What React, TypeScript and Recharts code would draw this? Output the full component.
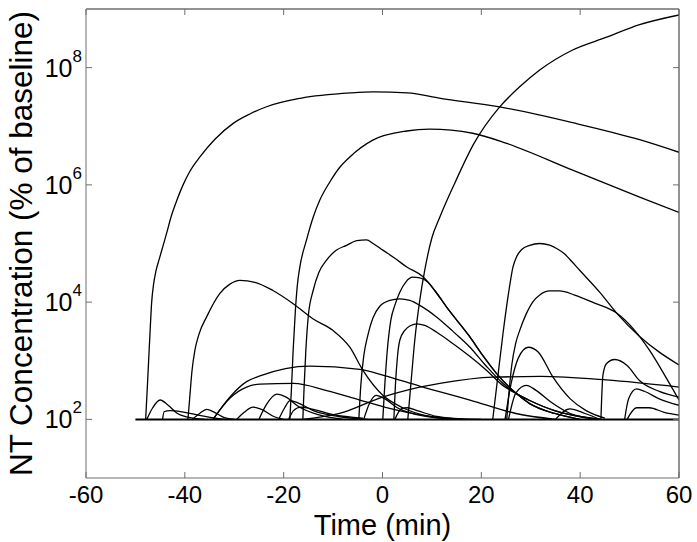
import { LineChart, Line, XAxis, YAxis, Label, ReferenceLine } from 'recharts';

const FONT = '"Liberation Sans", Arial, Helvetica, sans-serif';
const FRAME = '#6e6e6e';

const xTicks = [-60, -40, -20, 0, 20, 40, 60];
const yTicks = [1e2, 1e4, 1e6, 1e8];
const xMax = 60;
const yMax = 1e9;

// each curve: [time (min), concentration (% of baseline)]
const baseline: [number, number][] = [[-50, 100], [60, 100]];

const curveA: [number, number][] = [
  [-47.93, 100], [-47.62, 313], [-47.32, 1020], [-47.02, 3310], [-46.71, 1.0e4], [-46.35, 1.95e4],
  [-45.84, 3.4e4], [-45.24, 5.2e4], [-44.43, 9.0e4], [-43.68, 1.5e5], [-42.81, 2.8e5],
  [-41.6, 5.5e5], [-40.38, 9.9e5], [-38.97, 1.71e6], [-36.95, 3.0e6], [-33.91, 6.0e6],
  [-30.21, 1.12e7], [-26.84, 1.62e7], [-23.46, 2.15e7], [-16.59, 3.0e7], [-6.48, 3.7e7],
  [-1.83, 3.85e7], [5.05, 3.7e7], [11.71, 3.0e7], [23.72, 2.14e7], [38.48, 1.15e7],
  [52.03, 5.9e6], [60, 3.6e6],
];
const curveB: [number, number][] = [
  [-18.75, 100], [-18.44, 313], [-18.08, 1510], [-17.63, 7200], [-17.23, 1.95e4], [-16.72, 4.0e4],
  [-15.37, 1.15e5], [-14.03, 2.8e5], [-12.68, 5.5e5], [-10.66, 1.12e6], [-8.64, 2.0e6],
  [-6.61, 3.0e6], [-1.96, 5.8e6], [4.91, 8.3e6], [9.56, 8.9e6], [18.26, 7.6e6], [25.13, 5.1e6],
  [38.48, 1.78e6], [52.03, 6.2e5], [60, 3.4e5],
];
const curveC: [number, number][] = [
  [-16.12, 100], [-15.85, 380], [-15.51, 1510], [-15.0, 5970], [-14.03, 1.58e4], [-12.88, 3.2e4],
  [-11.32, 5.2e4], [-9.44, 7.6e4], [-7.28, 9.3e4], [-5.2, 1.12e5], [-3.24, 1.15e5],
  [-1.9, 1.0e5], [0.06, 7.7e4], [2.49, 5.6e4], [4.85, 4.0e4], [8.21, 2.7e4], [10.57, 1.58e4],
  [12.94, 8.3e3], [17.65, 2.57e3], [20.28, 1.23e3], [23.05, 610], [27.1, 275], [29.79, 186],
  [34.84, 126], [39.9, 100],
];
const curveD: [number, number][] = [
  [5.12, 100], [5.72, 380], [6.53, 2240], [7.54, 1.07e4], [8.55, 3.5e4], [9.97, 1.23e5],
  [11.59, 2.8e5], [14.62, 1.07e6], [18.46, 5.0e6], [23.72, 2.14e7], [27.76, 4.7e7],
  [31.81, 9.1e7], [38.48, 2.0e8], [45.36, 3.3e8], [52.03, 5.4e8], [60, 7.9e8],
];
const curveE: [number, number][] = [
  [22.31, 100], [23.32, 520], [24.39, 2950], [25.44, 1.3e4], [26.41, 4.0e4], [27.16, 6.0e4],
  [28.17, 7.9e4], [29.79, 9.3e4], [31.81, 1.0e5], [33.83, 9.4e4], [35.25, 8.2e4], [36.87, 6.6e4],
  [37.88, 5.4e4], [39.9, 3.5e4], [43.94, 1.48e4], [47.38, 6.5e3], [52.03, 2.6e3],
  [56.08, 1.39e3], [60, 850],
];
const curveF: [number, number][] = [
  [-39.37, 100], [-38.97, 257], [-38.56, 661], [-37.96, 1510], [-37.15, 2820], [-35.59, 5600],
  [-32.9, 1.41e4], [-30.88, 2.03e4], [-28.86, 2.35e4], [-25.82, 2.18e4], [-22.18, 1.58e4],
  [-18.14, 9.5e3], [-14.1, 5.2e3], [-10.05, 3.3e3], [-6.61, 1.7e3], [-3.98, 690], [0.06, 257],
  [4.1, 158], [9.56, 112], [15.6, 100],
];
const curveG: [number, number][] = [
  [25.14, 100], [25.54, 257], [26.15, 830], [26.96, 2000], [27.77, 3300], [28.98, 6000],
  [30.39, 1.0e4], [31.81, 1.32e4], [33.83, 1.55e4], [35.85, 1.55e4], [38.89, 1.32e4],
  [42.93, 9.6e3], [47.38, 6.5e3], [51.02, 3.3e3], [54.05, 1.5e3], [57.09, 570], [60, 214],
];
const curveJ: [number, number][] = [
  [0.06, 100], [0.46, 380], [0.97, 1510], [1.68, 4900], [2.49, 8800], [3.5, 1.48e4],
  [4.71, 2.2e4], [6.13, 2.66e4], [7.54, 2.6e4], [9.16, 2.2e4], [10.57, 1.58e4], [12.94, 8.3e3],
  [17.65, 2.57e3], [20.28, 1.23e3], [23.05, 610], [27.1, 275], [29.79, 186], [34.84, 126],
  [39.9, 100],
];
const curveK: [number, number][] = [
  [-4.79, 100], [-4.39, 380], [-3.78, 1230], [-2.97, 2720], [-1.96, 5300], [-0.55, 8500],
  [1.47, 1.07e4], [3.5, 1.14e4], [5.52, 1.07e4], [7.54, 8800], [10.92, 5600], [14.22, 3200],
  [17.65, 1720], [20.89, 830], [24.39, 410], [27.1, 275], [29.79, 210], [34.84, 141],
  [39.9, 112], [43.94, 100],
];
const curveL: [number, number][] = [
  [2.3, 100], [2.61, 380], [3.05, 1230], [3.5, 2240], [4.51, 3300], [5.72, 4000], [6.94, 4270],
  [8.55, 4000], [10.98, 3060], [14.28, 1950], [17.65, 1190], [21.03, 690], [24.33, 380],
  [27.1, 275], [29.79, 210], [34.84, 141], [39.9, 112], [43.94, 100],
];
const curveP: [number, number][] = [
  [-16, 100], [-8.7, 126], [0, 240], [5, 316], [11.6, 410], [22.4, 525], [32, 540], [45.3, 470],
  [60, 355],
];
const curveQ: [number, number][] = [
  [-34.3, 100], [-30.9, 240], [-27.5, 440], [-24.8, 550], [-14.7, 810], [-4.6, 710], [0.4, 560],
  [7.5, 370], [17.7, 214], [27, 126], [35, 100],
];
const curveR: [number, number][] = [
  [-34.3, 100], [-30.9, 230], [-27.5, 355], [-24.8, 400], [-18, 410], [-11.3, 310], [-4.6, 214],
  [0.4, 162], [5, 132], [12, 107], [20, 100],
];
const curveM: [number, number][] = [
  [24.8, 100], [26, 398], [27.5, 1120], [29.5, 1700], [31.5, 1410], [34.5, 525], [38, 224],
  [41.2, 141], [45, 105],
];
const curveN: [number, number][] = [
  [25.5, 100], [27, 282], [29.1, 380], [31, 316], [34, 200], [38, 126], [42, 105],
];
const curveH: [number, number][] = [
  [44.2, 100], [44.6, 560], [45.3, 890], [47, 1050], [49.5, 830], [52, 460], [56, 300], [60, 240],
];
const curveI: [number, number][] = [
  [49, 100], [49.8, 224], [51.4, 331], [53, 302], [56, 224], [60, 174],
];
const curveI2: [number, number][] = [
  [49.5, 100], [51.4, 158], [54, 158], [57, 132], [60, 118],
];
const bump1: [number, number][] = [
  [-47.7, 100], [-46.5, 158], [-45, 214], [-43.5, 178], [-41.5, 126], [-39.6, 110], [-36, 100],
];
const bump2: [number, number][] = [
  [-44.5, 100], [-44.2, 135], [-43, 141], [-40, 132], [-37, 117], [-34.6, 107], [-32, 100],
];
const bump3: [number, number][] = [
  [-38.5, 100], [-37, 126], [-35.6, 148], [-34, 132], [-32, 107], [-30, 100],
];
const bump4: [number, number][] = [
  [-29.5, 100], [-28, 132], [-26.2, 162], [-24.5, 148], [-22, 112], [-20, 100],
];
const bump5: [number, number][] = [
  [-25, 100], [-23.5, 178], [-21.4, 270], [-19.5, 240], [-17, 166], [-13, 120], [-8, 100],
];
const bump6: [number, number][] = [
  [-21, 100], [-19.8, 158], [-18.7, 209], [-17, 190], [-14, 141], [-9, 112], [-3, 100],
];
const bump7: [number, number][] = [
  [-19, 100], [-18, 141], [-16.5, 162], [-14, 148], [-10, 120], [-4, 105],
];
const bump8: [number, number][] = [
  [-3.8, 100], [-2.6, 190], [-1.3, 257], [0.5, 224], [3, 158], [7, 120], [12, 105],
];
const bump9: [number, number][] = [
  [2.5, 100], [3.8, 151], [5, 158], [7, 141], [11, 112], [16, 100],
];
const bump10: [number, number][] = [
  [35, 100], [37.9, 151], [41, 126], [44, 100],
];

const curves = [
  curveA, curveB, curveC, curveD, curveE, curveF, curveG, curveJ, curveK, curveL, curveP, curveQ,
  curveR, curveM, curveN, curveH, curveI, curveI2, bump1, bump2, bump3, bump4, bump5, bump6,
  bump7, bump8, bump9, bump10,
];

const rows = (pts: [number, number][]) => pts.map(([t, v]) => ({ t, v }));

function PowTick({ x, y, payload }: any) {
  const exp = Math.round(Math.log10(payload.value));
  return (
    <text x={x} y={y} dy={9} textAnchor="end" fill="#000" fontSize={25} fontFamily={FONT}>
      <tspan>10</tspan>
      <tspan dy={-15} fontSize={17}>{exp}</tspan>
    </text>
  );
}

function TimeTick({ x, y, payload }: any) {
  return (
    <text x={x} y={y} dy={13} textAnchor="middle" fill="#000" fontSize={24} fontFamily={FONT}>
      {payload.value}
    </text>
  );
}

export default function App() {
  return (
    <div style={{ position: 'absolute', left: 0, top: 0, background: '#fff' }}>
      <LineChart width={697} height={542} margin={{ top: 8, right: 17, left: 0, bottom: 0 }}>
        <XAxis
          xAxisId={0} type="number" dataKey="t" domain={[-60, 60]} ticks={xTicks}
          allowDataOverflow height={64} stroke={FRAME} tickSize={-6} tickMargin={18}
          tick={<TimeTick />}
        >
          <Label value="Time (min)" position="insideBottom" offset={7} fill="#000"
            fontSize={29} fontFamily={FONT} />
        </XAxis>
        <XAxis
          xAxisId="top" orientation="top" type="number" dataKey="t" domain={[-60, 60]}
          ticks={xTicks} allowDataOverflow height={1} stroke={FRAME} tickSize={-6}
          tickFormatter={() => ''}
        />
        <YAxis
          yAxisId={0} scale="log" type="number" domain={[10, 1e9]} ticks={yTicks}
          allowDataOverflow width={86} stroke={FRAME} tickSize={-6} tickMargin={10}
          tick={<PowTick />}
        >
          <Label value="NT Concentration (% of baseline)" angle={-90} position="insideLeft"
            offset={21} fill="#000" fontSize={31.5} fontFamily={FONT}
            style={{ textAnchor: 'middle' }} />
        </YAxis>
        <YAxis
          yAxisId="right" orientation="right" scale="log" type="number" domain={[10, 1e9]}
          ticks={yTicks} allowDataOverflow width={1} stroke={FRAME} tickSize={-6}
          tickFormatter={() => ''}
        />
        <ReferenceLine xAxisId={0} yAxisId={0} x={xMax} stroke={FRAME} strokeWidth={1} />
        <ReferenceLine xAxisId={0} yAxisId={0} y={yMax} stroke={FRAME} strokeWidth={1} />
        <Line
          xAxisId="top" yAxisId="right" data={rows(baseline)} dataKey="v" type="linear"
          stroke="#000" strokeWidth={2} dot={false} isAnimationActive={false}
        />
        {curves.map((c, i) => (
          <Line
            key={i} xAxisId={0} yAxisId={0} data={rows(c)} dataKey="v" type="monotone"
            stroke="#000" strokeWidth={1.3} dot={false} isAnimationActive={false}
          />
        ))}
      </LineChart>
    </div>
  );
}
